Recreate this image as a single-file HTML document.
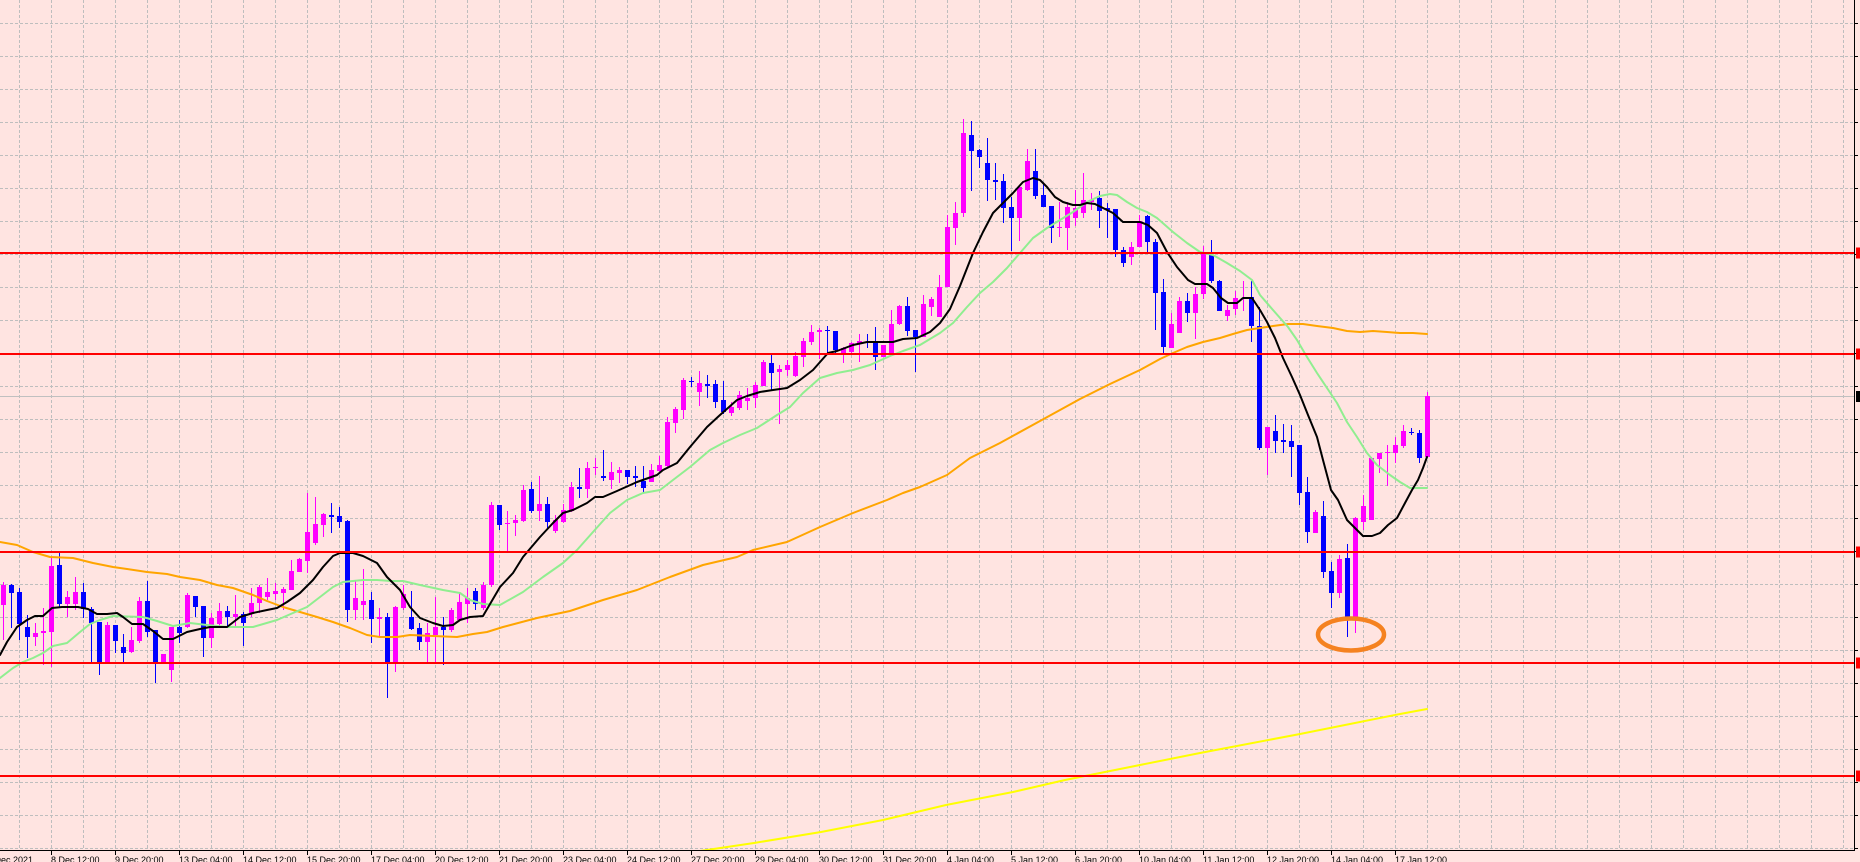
<!DOCTYPE html>
<html>
<head>
<meta charset="utf-8">
<style>
html,body{margin:0;padding:0;background:#FFE4E1;width:1860px;height:862px;overflow:hidden}
svg{display:block}
text{font-family:"Liberation Sans",Arial,sans-serif;font-size:9px;fill:#000}
</style>
</head>
<body>
<svg id="c" width="1860" height="862" xmlns="http://www.w3.org/2000/svg">
<defs>
<clipPath id="clip"><rect x="0" y="0" width="1854" height="850"/></clipPath>
</defs>
<rect x="0" y="0" width="1860" height="862" fill="#FFE4E1"/>
<g id="grid" stroke="#BEBEBE" stroke-width="1" stroke-dasharray="3,2" clip-path="url(#clip)"></g>
<g id="plot" clip-path="url(#clip)"></g>
<g id="axes"></g>
<g id="labels">
<text x="-13" y="863">6 Dec 2021</text>
<text x="51" y="863">8 Dec 12:00</text>
<text x="115" y="863">9 Dec 20:00</text>
<text x="179" y="863">13 Dec 04:00</text>
<text x="243" y="863">14 Dec 12:00</text>
<text x="307" y="863">15 Dec 20:00</text>
<text x="371" y="863">17 Dec 04:00</text>
<text x="435" y="863">20 Dec 12:00</text>
<text x="499" y="863">21 Dec 20:00</text>
<text x="563" y="863">23 Dec 04:00</text>
<text x="627" y="863">24 Dec 12:00</text>
<text x="691" y="863">27 Dec 20:00</text>
<text x="755" y="863">29 Dec 04:00</text>
<text x="819" y="863">30 Dec 12:00</text>
<text x="883" y="863">31 Dec 20:00</text>
<text x="947" y="863">4 Jan 04:00</text>
<text x="1011" y="863">5 Jan 12:00</text>
<text x="1075" y="863">6 Jan 20:00</text>
<text x="1139" y="863">10 Jan 04:00</text>
<text x="1203" y="863">11 Jan 12:00</text>
<text x="1267" y="863">12 Jan 20:00</text>
<text x="1331" y="863">14 Jan 04:00</text>
<text x="1395" y="863">17 Jan 12:00</text>
</g>
</svg>
<script>
(function(){
var NS='http://www.w3.org/2000/svg';
function el(tag,a,p){var e=document.createElementNS(NS,tag);for(var k in a)e.setAttribute(k,a[k]);p.appendChild(e);return e;}
var grid=document.getElementById('grid'),plot=document.getElementById('plot'),axes=document.getElementById('axes');
var x,y,k;
for(x=19;x<1854;x+=32){el('line',{x1:x+0.5,y1:0,x2:x+0.5,y2:850},grid);}
for(y=23;y<=848;y+=33){el('line',{x1:0,y1:y+0.5,x2:1854,y2:y+0.5},grid);}
// bid line
el('rect',{x:0,y:396,width:1854,height:1,fill:'#C0C0C0'},plot);
var D=[
[1,585,605,582,640],[0,585,593,584,628],[0,592,624,588,640],[0,627,637,615,658],[1,633,637,623,646],
[1,631,633,608,665],[1,566,632,557,667],[0,565,604,553,607],[1,597,604,591,617],[1,592,604,577,610],
[0,592,609,583,618],[0,609,623,607,662],[0,622,662,622,675],[1,625,662,622,662],[0,625,641,625,653],
[0,647,653,634,662],[1,640,652,627,653],[1,601,641,597,643],[0,601,632,581,637],[0,630,662,630,683],
[1,654,663,654,663],[1,627,670,627,682],[0,627,633,620,643],[1,595,627,593,628],[0,596,607,596,617],
[0,606,638,606,657],[1,618,638,613,648],[1,611,624,603,627],[0,611,617,606,627],[1,614,617,595,627],
[0,614,623,612,646],[1,603,614,588,617],[1,587,603,585,613],[1,592,597,578,600],[1,591,594,583,600],
[1,589,593,587,610],[1,571,590,560,590],[1,559,572,558,572],[1,532,561,493,573],[1,524,543,497,545],
[1,514,525,513,537],[0,515,517,503,533],[0,516,522,507,528],[0,521,610,520,622],[1,598,610,580,620],
[1,601,605,569,620],[0,600,619,592,643],[1,617,619,608,637],[0,617,663,613,698],[1,607,663,606,672],
[1,594,608,585,610],[0,617,629,591,630],[0,628,642,623,650],[1,633,642,623,662],[1,627,635,597,662],
[0,627,630,617,665],[1,610,630,608,632],[1,602,620,593,620],[1,598,604,588,623],[0,591,604,588,610],
[1,585,608,582,610],[1,505,585,502,587],[0,505,525,505,530],[1,523,524,511,551],[1,520,523,515,536],
[1,490,521,485,522],[0,489,511,482,513],[1,504,511,476,521],[0,504,522,497,528],[1,520,531,515,533],
[1,510,522,504,523],[1,487,511,482,512],[0,487,489,468,498],[1,468,489,462,498],[1,467,468,458,475],
[0,476,478,450,481],[1,472,480,462,489],[1,470,473,467,483],[0,470,477,470,484],[0,476,478,466,487],
[0,481,488,466,492],[1,470,482,464,482],[1,465,471,456,473],[1,422,466,417,467],[1,409,423,407,433],
[1,380,410,378,419],[0,381,382,377,387],[1,383,392,371,406],[0,384,386,375,398],[0,384,402,380,408],
[0,400,412,381,414],[1,407,413,402,416],[1,395,408,391,410],[1,398,401,388,410],[1,385,398,382,408],
[1,362,386,360,386],[0,363,373,354,391],[1,369,372,365,424],[1,365,370,360,376],[1,356,376,352,377],
[1,341,357,338,367],[1,332,342,325,345],[1,330,332,328,359],[0,330,331,326,353],[0,331,350,331,355],
[1,348,353,347,363],[1,343,352,342,353],[1,341,344,334,362],[0,342,343,334,348],[0,342,357,327,370],
[1,345,357,345,357],[1,324,353,310,353],[1,306,324,305,325],[0,306,331,297,336],[0,330,337,330,372],
[1,304,337,295,337],[1,299,307,297,316],[1,287,317,275,317],[1,227,287,215,287],[1,213,228,202,245],
[1,133,213,119,217],[0,135,151,121,191],[0,150,157,149,168],[0,163,180,138,201],[0,180,182,163,200],
[0,181,208,174,223],[0,207,218,197,251],[1,187,218,187,241],[1,161,190,149,191],[0,171,196,149,199],
[0,195,207,183,207],[0,206,228,206,243],[1,227,228,202,237],[1,207,228,202,250],[1,208,218,190,226],
[1,200,213,173,218],[1,200,202,193,210],[0,198,211,191,228],[0,208,210,203,238],[0,209,250,209,257],
[0,250,263,247,267],[1,247,257,242,265],[1,221,247,215,247],[0,216,242,215,252],[0,242,293,239,330],
[0,292,347,279,353],[1,324,348,313,348],[1,301,333,297,333],[0,301,313,293,322],[1,294,313,287,339],
[1,252,294,246,299],[0,255,281,240,283],[0,281,311,280,311],[1,310,316,305,321],[1,298,309,291,315],
[1,298,299,281,311],[0,297,326,281,342],[0,326,448,307,450],[1,427,448,427,475],[0,431,441,415,453],
[0,440,442,424,453],[0,441,447,425,477],[0,445,493,445,505],[0,492,532,477,543],[1,512,533,510,533],
[0,516,572,501,578],[0,571,593,562,608],[1,559,593,555,598],[0,558,618,544,637],[1,518,618,517,633],
[1,506,522,495,530],[1,458,520,457,520],[1,453,459,453,473],[1,452,453,445,486],[1,445,453,437,463],
[1,431,446,425,448],[0,432,433,428,435],[0,433,458,430,463],[1,396,457,392,457]
];
for(k=0;k<D.length;k++){
  var d=D[k],xc=3+8*k,col=d[0]?'#FF00FF':'#0000FF';
  el('rect',{x:xc,y:d[3],width:1,height:Math.max(1,d[4]-d[3]),fill:col},plot);
  el('rect',{x:xc-2,y:d[1],width:5,height:Math.max(1,d[2]-d[1]),fill:col},plot);
}
function pl(pts,col,w){
  var s=pts.map(function(p){return p[0]+','+p[1];}).join(' ');
  el('polyline',{points:s,fill:'none',stroke:col,'stroke-width':w,'stroke-linejoin':'round','stroke-linecap':'round'},plot);
}
var orange=[[0,542],[17,545],[33,552],[50,557],[73,558],[93,563],[113,567],[127,569],[147,572],[167,574],[180,577],[200,580],[217,585],[233,588],[253,595],[267,601],[283,607],[300,612],[317,617],[333,622],[350,628],[367,635],[380,637],[397,637],[410,635],[433,636],[457,637],[473,634],[487,632],[503,627],[537,618],[570,611],[603,600],[637,590],[670,577],[703,565],[737,557],[753,550],[787,542],[820,527],[853,513],[887,500],[903,493],[920,487],[947,475],[970,458],[1000,443],[1040,421],[1080,399],[1110,384],[1140,370],[1160,359],[1173,353],[1187,347],[1203,342],[1220,338],[1233,334],[1247,330],[1260,328],[1273,326],[1288,324],[1303,324],[1317,326],[1333,328],[1347,331],[1360,332],[1373,331],[1387,332],[1400,333],[1413,333],[1427,334]];
var green=[[0,678],[13,668],[23,662],[33,658],[43,653],[53,646],[67,643],[80,632],[90,624],[100,620],[113,616],[143,617],[157,621],[173,626],[190,623],[207,625],[227,627],[253,627],[277,620],[293,613],[307,607],[320,597],[333,587],[343,582],[363,580],[377,580],[390,581],[403,581],[420,585],[443,590],[460,593],[470,600],[483,604],[500,605],[523,592],[543,577],[563,563],[577,550],[593,532],[610,513],[627,500],[643,493],[660,490],[673,480],[690,467],[710,450],[723,443],[740,435],[757,428],[777,415],[790,407],[803,393],[820,378],[837,373],[853,370],[870,365],[890,356],[903,351],[920,345],[940,333],[953,323],[967,307],[980,293],[993,282],[1007,268],[1020,253],[1033,238],[1047,228],[1060,220],[1073,212],[1087,202],[1100,196],[1110,194],[1117,195],[1127,202],[1137,208],[1147,212],[1157,218],[1173,232],[1187,243],[1200,252],[1213,255],[1227,263],[1240,271],[1252,280],[1260,295],[1273,310],[1288,327],[1297,340],[1307,357],[1317,373],[1327,388],[1337,403],[1347,422],[1357,437],[1367,453],[1377,465],[1390,475],[1400,482],[1410,488],[1427,488]];
var black=[[0,655],[7,642],[17,627],[27,620],[35,616],[43,616],[52,608],[62,607],[78,607],[88,609],[97,614],[107,614],[117,613],[123,617],[132,624],[143,624],[153,631],[163,639],[173,639],[187,632],[200,629],[210,627],[227,627],[240,617],[253,613],[267,610],[277,608],[287,602],[300,593],[313,580],[323,567],[333,556],[340,553],[353,553],[363,556],[377,563],[387,577],[400,590],[410,607],[420,618],[433,623],[443,626],[453,625],[460,620],[470,617],[483,616],[500,587],[513,573],[523,557],[540,537],[553,523],[563,513],[573,510],[587,503],[595,497],[603,497],[617,491],[637,482],[657,475],[663,470],[677,463],[690,447],[707,427],[720,415],[737,400],[747,396],[760,392],[773,390],[787,388],[800,380],[813,370],[828,353],[837,351],[853,345],[867,342],[893,342],[903,339],[917,338],[930,332],[940,323],[950,309],[960,286],[973,253],[983,232],[993,213],[1003,203],[1013,193],[1023,182],[1033,178],[1040,180],[1047,187],[1055,197],[1063,202],[1073,205],[1080,205],[1087,203],[1095,204],[1103,208],[1113,213],[1123,222],[1140,222],[1148,225],[1157,233],[1167,252],[1177,267],[1188,280],[1195,284],[1207,284],[1213,288],[1221,298],[1228,303],[1237,303],[1243,298],[1252,298],[1260,310],[1267,322],[1275,338],[1283,358],[1292,377],[1300,395],[1308,415],[1317,437],[1323,460],[1331,490],[1338,500],[1347,520],[1355,528],[1363,536],[1372,536],[1380,533],[1388,525],[1397,518],[1405,503],[1412,490],[1418,480],[1423,468],[1427,457]];
var yellow=[[690,853],[700,851],[754,843],[821,832],[883,820],[946,805],[1013,792],[1065,780],[1130,767],[1200,753],[1300,734],[1400,714],[1427,709]];
pl(orange,'#FFA500',2);
pl(green,'#90EE90',2);
pl(black,'#000000',2);
pl(yellow,'#FFFF00',2);
// red horizontal levels
var reds=[253,354,552,663,776];
reds.forEach(function(c){el('rect',{x:0,y:c-1,width:1855,height:2,fill:'#FF0000'},plot);});
// ellipse
el('ellipse',{cx:1351,cy:634.5,rx:33,ry:16,fill:'none',stroke:'#F58220','stroke-width':4.5},plot);
// axes
el('rect',{x:1854,y:0,width:1,height:851,fill:'#000'},axes);
el('rect',{x:0,y:850,width:1855,height:1,fill:'#000'},axes);
for(y=23;y<=848;y+=33){el('rect',{x:1855,y:y,width:3,height:1,fill:'#000'},axes);}
for(x=-13;x<=1395;x+=64){el('rect',{x:x,y:851,width:1,height:4,fill:'#000'},axes);}
reds.forEach(function(c){el('rect',{x:1856,y:c-5.5,width:4,height:11,fill:'#FF0000'},axes);});
el('rect',{x:1856,y:391,width:4,height:11,fill:'#000'},axes);
})();
</script>
</body>
</html>
